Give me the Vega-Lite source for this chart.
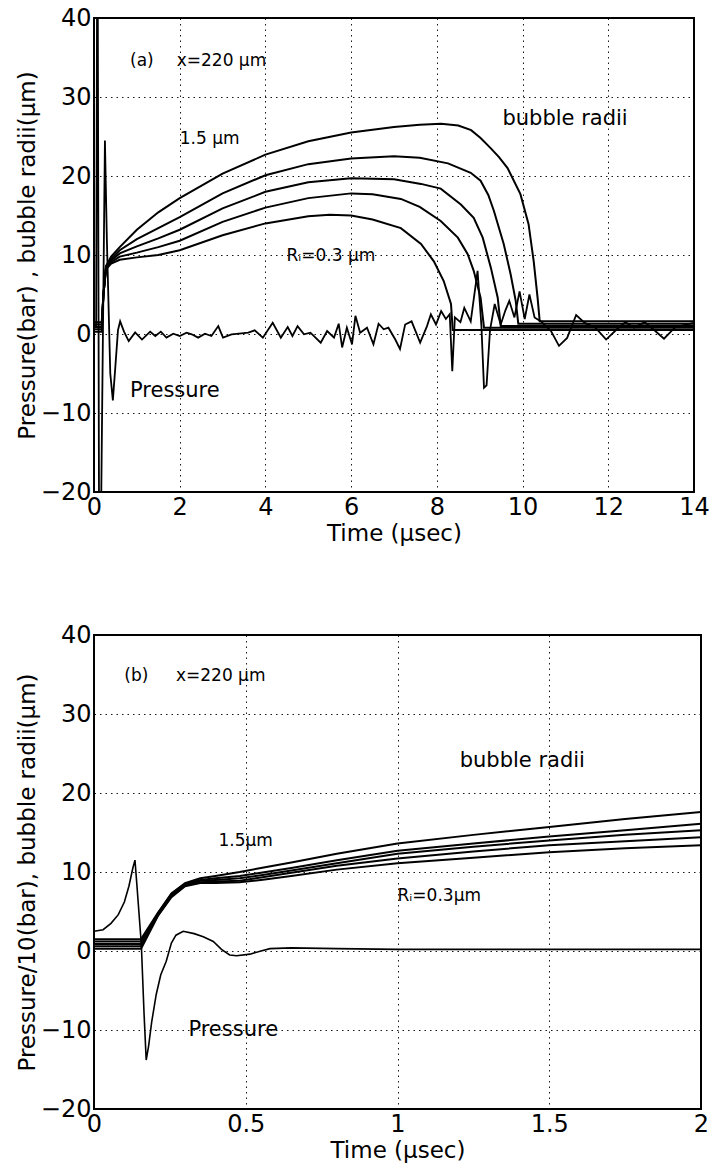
{
  "$schema": "https://vega.github.io/schema/vega-lite/v6.json",
  "background": "white",
  "padding": {"left": 15, "top": 5, "right": 0, "bottom": 0},
  "config": {
    "font": "DejaVu Sans",
    "view": {"stroke": "black", "strokeWidth": 2},
    "concat": {"spacing": 76},
    "axis": {
      "grid": true,
      "gridColor": "black",
      "gridDash": [1.5, 4],
      "gridWidth": 1,
      "gridOpacity": 0.9,
      "ticks": false,
      "domain": false,
      "labelFontSize": 24,
      "labelColor": "black",
      "labelFont": "DejaVu Sans",
      "labelPadding": 3,
      "labelFlush": false,
      "labelOverlap": false,
      "titleFontSize": 23,
      "titleFontWeight": "normal",
      "titleColor": "black",
      "titleFont": "DejaVu Sans",
      "titlePadding": 3
    }
  },
  "datasets": {
    "bubA": [
      {"r": "1.5", "t": 0, "v": 1.5}, {"r": "1.5", "t": 0.18, "v": 1.5}, {"r": "1.5", "t": 0.22, "v": 5.0}, {"r": "1.5", "t": 0.28, "v": 8.6}, {"r": "1.5", "t": 0.4, "v": 9.8}, {"r": "1.5", "t": 0.6, "v": 11.0}, {"r": "1.5", "t": 1.0, "v": 13.2}, {"r": "1.5", "t": 1.5, "v": 15.4}, {"r": "1.5", "t": 2.0, "v": 17.2}, {"r": "1.5", "t": 3.0, "v": 20.3}, {"r": "1.5", "t": 4.0, "v": 22.7}, {"r": "1.5", "t": 5.0, "v": 24.4}, {"r": "1.5", "t": 6.0, "v": 25.5}, {"r": "1.5", "t": 7.0, "v": 26.2}, {"r": "1.5", "t": 7.6, "v": 26.5}, {"r": "1.5", "t": 8.1, "v": 26.6}, {"r": "1.5", "t": 8.5, "v": 26.4}, {"r": "1.5", "t": 8.8, "v": 25.8}, {"r": "1.5", "t": 9.02, "v": 24.8}, {"r": "1.5", "t": 9.26, "v": 23.5}, {"r": "1.5", "t": 9.45, "v": 22.4}, {"r": "1.5", "t": 9.65, "v": 21.0}, {"r": "1.5", "t": 9.95, "v": 17.7}, {"r": "1.5", "t": 10.14, "v": 13.9}, {"r": "1.5", "t": 10.26, "v": 9.2}, {"r": "1.5", "t": 10.35, "v": 4.6}, {"r": "1.5", "t": 10.4, "v": 1.6}, {"r": "1.5", "t": 14.0, "v": 1.6},
      {"r": "1.2", "t": 0, "v": 1.2}, {"r": "1.2", "t": 0.18, "v": 1.2}, {"r": "1.2", "t": 0.22, "v": 5.0}, {"r": "1.2", "t": 0.28, "v": 8.5}, {"r": "1.2", "t": 0.4, "v": 9.5}, {"r": "1.2", "t": 0.6, "v": 10.6}, {"r": "1.2", "t": 1.0, "v": 12.0}, {"r": "1.2", "t": 1.5, "v": 13.4}, {"r": "1.2", "t": 2.0, "v": 14.8}, {"r": "1.2", "t": 3.0, "v": 17.8}, {"r": "1.2", "t": 4.0, "v": 20.1}, {"r": "1.2", "t": 5.0, "v": 21.5}, {"r": "1.2", "t": 6.0, "v": 22.2}, {"r": "1.2", "t": 7.0, "v": 22.5}, {"r": "1.2", "t": 7.6, "v": 22.3}, {"r": "1.2", "t": 8.26, "v": 21.6}, {"r": "1.2", "t": 8.79, "v": 20.4}, {"r": "1.2", "t": 9.02, "v": 19.4}, {"r": "1.2", "t": 9.2, "v": 17.6}, {"r": "1.2", "t": 9.33, "v": 15.6}, {"r": "1.2", "t": 9.56, "v": 11.4}, {"r": "1.2", "t": 9.72, "v": 7.6}, {"r": "1.2", "t": 9.84, "v": 4.2}, {"r": "1.2", "t": 9.9, "v": 1.3}, {"r": "1.2", "t": 14.0, "v": 1.3},
      {"r": "0.9", "t": 0, "v": 0.9}, {"r": "0.9", "t": 0.18, "v": 0.9}, {"r": "0.9", "t": 0.22, "v": 5.0}, {"r": "0.9", "t": 0.28, "v": 8.4}, {"r": "0.9", "t": 0.4, "v": 9.3}, {"r": "0.9", "t": 0.6, "v": 10.2}, {"r": "0.9", "t": 1.0, "v": 11.1}, {"r": "0.9", "t": 1.5, "v": 12.1}, {"r": "0.9", "t": 2.0, "v": 13.2}, {"r": "0.9", "t": 3.0, "v": 15.9}, {"r": "0.9", "t": 4.0, "v": 18.0}, {"r": "0.9", "t": 5.0, "v": 19.2}, {"r": "0.9", "t": 6.0, "v": 19.7}, {"r": "0.9", "t": 7.0, "v": 19.6}, {"r": "0.9", "t": 7.63, "v": 19.0}, {"r": "0.9", "t": 8.09, "v": 18.4}, {"r": "0.9", "t": 8.56, "v": 16.4}, {"r": "0.9", "t": 8.86, "v": 14.7}, {"r": "0.9", "t": 9.07, "v": 12.2}, {"r": "0.9", "t": 9.26, "v": 8.4}, {"r": "0.9", "t": 9.42, "v": 4.6}, {"r": "0.9", "t": 9.49, "v": 1.0}, {"r": "0.9", "t": 14.0, "v": 1.0},
      {"r": "0.6", "t": 0, "v": 0.6}, {"r": "0.6", "t": 0.18, "v": 0.6}, {"r": "0.6", "t": 0.22, "v": 5.0}, {"r": "0.6", "t": 0.28, "v": 8.3}, {"r": "0.6", "t": 0.4, "v": 9.1}, {"r": "0.6", "t": 0.6, "v": 9.8}, {"r": "0.6", "t": 1.0, "v": 10.3}, {"r": "0.6", "t": 1.5, "v": 11.0}, {"r": "0.6", "t": 2.0, "v": 11.8}, {"r": "0.6", "t": 3.0, "v": 14.2}, {"r": "0.6", "t": 4.0, "v": 16.0}, {"r": "0.6", "t": 5.0, "v": 17.2}, {"r": "0.6", "t": 6.0, "v": 17.8}, {"r": "0.6", "t": 6.5, "v": 17.7}, {"r": "0.6", "t": 7.16, "v": 17.1}, {"r": "0.6", "t": 7.6, "v": 16.1}, {"r": "0.6", "t": 8.09, "v": 14.3}, {"r": "0.6", "t": 8.49, "v": 12.2}, {"r": "0.6", "t": 8.72, "v": 10.1}, {"r": "0.6", "t": 8.86, "v": 8.0}, {"r": "0.6", "t": 9.02, "v": 4.6}, {"r": "0.6", "t": 9.1, "v": 0.8}, {"r": "0.6", "t": 14.0, "v": 0.8},
      {"r": "0.3", "t": 0, "v": 0.3}, {"r": "0.3", "t": 0.18, "v": 0.3}, {"r": "0.3", "t": 0.22, "v": 5.0}, {"r": "0.3", "t": 0.28, "v": 8.2}, {"r": "0.3", "t": 0.4, "v": 8.9}, {"r": "0.3", "t": 0.6, "v": 9.4}, {"r": "0.3", "t": 1.0, "v": 9.7}, {"r": "0.3", "t": 1.5, "v": 10.0}, {"r": "0.3", "t": 2.0, "v": 10.6}, {"r": "0.3", "t": 3.0, "v": 12.5}, {"r": "0.3", "t": 4.0, "v": 14.0}, {"r": "0.3", "t": 5.0, "v": 14.9}, {"r": "0.3", "t": 5.5, "v": 15.1}, {"r": "0.3", "t": 6.0, "v": 15.0}, {"r": "0.3", "t": 6.5, "v": 14.5}, {"r": "0.3", "t": 7.16, "v": 13.4}, {"r": "0.3", "t": 7.63, "v": 11.4}, {"r": "0.3", "t": 7.93, "v": 9.2}, {"r": "0.3", "t": 8.16, "v": 6.7}, {"r": "0.3", "t": 8.33, "v": 3.8}, {"r": "0.3", "t": 8.37, "v": 0.5}, {"r": "0.3", "t": 14.0, "v": 0.5}
    ],
    "presA": [
      {"t": 0, "v": 1}, {"t": 0.05, "v": 1}, {"t": 0.08, "v": 60}, {"t": 0.125, "v": -40}, {"t": 0.17, "v": -20}, {"t": 0.255, "v": 24.5}, {"t": 0.3, "v": 12}, {"t": 0.38, "v": -5}, {"t": 0.44, "v": -8.4}, {"t": 0.5, "v": -4}, {"t": 0.56, "v": 0.5}, {"t": 0.61, "v": 1.6}, {"t": 0.7, "v": 0.3}, {"t": 0.81, "v": -0.9}, {"t": 0.96, "v": 0.2}, {"t": 1.12, "v": -0.7}, {"t": 1.31, "v": 0.3}, {"t": 1.43, "v": -0.25}, {"t": 1.56, "v": 0.3}, {"t": 1.69, "v": -0.46}, {"t": 1.85, "v": 0.04}, {"t": 2.0, "v": -0.25}, {"t": 2.16, "v": 0.17}, {"t": 2.28, "v": -0.04}, {"t": 2.43, "v": -0.46}, {"t": 2.59, "v": 0.04}, {"t": 2.74, "v": -0.25}, {"t": 2.9, "v": 1.0}, {"t": 3.01, "v": -0.46}, {"t": 3.21, "v": -0.04}, {"t": 3.44, "v": 0.08}, {"t": 3.6, "v": 0.17}, {"t": 3.75, "v": 0.46}, {"t": 3.94, "v": -0.46}, {"t": 4.17, "v": 1.43}, {"t": 4.36, "v": -0.46}, {"t": 4.52, "v": 0.89}, {"t": 4.63, "v": -0.25}, {"t": 4.75, "v": 1.0}, {"t": 4.9, "v": -0.04}, {"t": 5.05, "v": 0.17}, {"t": 5.29, "v": -1.1}, {"t": 5.44, "v": 0.38}, {"t": 5.6, "v": -0.46}, {"t": 5.71, "v": 1.3}, {"t": 5.79, "v": -1.7}, {"t": 5.9, "v": 0.8}, {"t": 6.02, "v": -1.3}, {"t": 6.1, "v": 2.3}, {"t": 6.21, "v": 0.17}, {"t": 6.37, "v": 0.8}, {"t": 6.52, "v": -1.3}, {"t": 6.64, "v": 1.3}, {"t": 6.76, "v": 0.6}, {"t": 6.87, "v": 0.8}, {"t": 7.03, "v": -0.7}, {"t": 7.14, "v": -1.9}, {"t": 7.26, "v": 1.2}, {"t": 7.41, "v": 1.6}, {"t": 7.61, "v": -1.1}, {"t": 7.77, "v": 1.0}, {"t": 7.86, "v": 2.5}, {"t": 7.98, "v": 1.2}, {"t": 8.1, "v": 2.9}, {"t": 8.21, "v": 1.9}, {"t": 8.3, "v": 2.5}, {"t": 8.36, "v": -4.7}, {"t": 8.42, "v": 2.1}, {"t": 8.55, "v": 1.5}, {"t": 8.64, "v": 3.3}, {"t": 8.79, "v": 1.6}, {"t": 8.95, "v": 8.0}, {"t": 9.04, "v": 1.0}, {"t": 9.1, "v": -6.8}, {"t": 9.16, "v": -6.5}, {"t": 9.24, "v": 0.5}, {"t": 9.35, "v": 3.8}, {"t": 9.49, "v": 1.2}, {"t": 9.6, "v": 3.0}, {"t": 9.69, "v": 4.2}, {"t": 9.81, "v": 2.1}, {"t": 9.93, "v": 5.4}, {"t": 10.05, "v": 1.9}, {"t": 10.16, "v": 5.0}, {"t": 10.28, "v": 2.1}, {"t": 10.43, "v": 1.6}, {"t": 10.66, "v": 0.4}, {"t": 10.85, "v": -1.5}, {"t": 11.04, "v": -0.5}, {"t": 11.25, "v": 2.4}, {"t": 11.45, "v": 1.4}, {"t": 11.7, "v": 0.8}, {"t": 11.95, "v": -0.7}, {"t": 12.2, "v": 0.6}, {"t": 12.4, "v": 1.5}, {"t": 12.6, "v": 0.8}, {"t": 12.85, "v": 1.5}, {"t": 13.05, "v": 0.6}, {"t": 13.3, "v": -0.6}, {"t": 13.55, "v": 0.8}, {"t": 13.8, "v": 1.2}, {"t": 14.0, "v": 1.4}
    ],
    "bubB": [
      {"r": "1.5", "t": 0, "v": 1.5}, {"r": "1.5", "t": 0.155, "v": 1.5}, {"r": "1.5", "t": 0.21, "v": 4.8}, {"r": "1.5", "t": 0.255, "v": 7.3}, {"r": "1.5", "t": 0.3, "v": 8.6}, {"r": "1.5", "t": 0.35, "v": 9.2}, {"r": "1.5", "t": 0.4, "v": 9.5}, {"r": "1.5", "t": 0.48, "v": 10.0}, {"r": "1.5", "t": 0.55, "v": 10.5}, {"r": "1.5", "t": 0.65, "v": 11.2}, {"r": "1.5", "t": 0.8, "v": 12.3}, {"r": "1.5", "t": 1.0, "v": 13.6}, {"r": "1.5", "t": 1.25, "v": 14.7}, {"r": "1.5", "t": 1.5, "v": 15.7}, {"r": "1.5", "t": 1.75, "v": 16.7}, {"r": "1.5", "t": 2.0, "v": 17.6},
      {"r": "1.2", "t": 0, "v": 1.2}, {"r": "1.2", "t": 0.155, "v": 1.2}, {"r": "1.2", "t": 0.21, "v": 4.7}, {"r": "1.2", "t": 0.255, "v": 7.2}, {"r": "1.2", "t": 0.3, "v": 8.5}, {"r": "1.2", "t": 0.35, "v": 9.0}, {"r": "1.2", "t": 0.4, "v": 9.2}, {"r": "1.2", "t": 0.48, "v": 9.5}, {"r": "1.2", "t": 0.55, "v": 9.9}, {"r": "1.2", "t": 0.65, "v": 10.5}, {"r": "1.2", "t": 0.8, "v": 11.5}, {"r": "1.2", "t": 1.0, "v": 12.7}, {"r": "1.2", "t": 1.25, "v": 13.6}, {"r": "1.2", "t": 1.5, "v": 14.5}, {"r": "1.2", "t": 1.75, "v": 15.3}, {"r": "1.2", "t": 2.0, "v": 16.1},
      {"r": "0.9", "t": 0, "v": 0.9}, {"r": "0.9", "t": 0.155, "v": 0.9}, {"r": "0.9", "t": 0.21, "v": 4.6}, {"r": "0.9", "t": 0.255, "v": 7.0}, {"r": "0.9", "t": 0.3, "v": 8.4}, {"r": "0.9", "t": 0.35, "v": 8.9}, {"r": "0.9", "t": 0.4, "v": 9.0}, {"r": "0.9", "t": 0.48, "v": 9.2}, {"r": "0.9", "t": 0.55, "v": 9.6}, {"r": "0.9", "t": 0.65, "v": 10.2}, {"r": "0.9", "t": 0.8, "v": 11.1}, {"r": "0.9", "t": 1.0, "v": 12.3}, {"r": "0.9", "t": 1.25, "v": 13.2}, {"r": "0.9", "t": 1.5, "v": 14.0}, {"r": "0.9", "t": 1.75, "v": 14.7}, {"r": "0.9", "t": 2.0, "v": 15.3},
      {"r": "0.6", "t": 0, "v": 0.6}, {"r": "0.6", "t": 0.155, "v": 0.6}, {"r": "0.6", "t": 0.21, "v": 4.5}, {"r": "0.6", "t": 0.255, "v": 6.9}, {"r": "0.6", "t": 0.3, "v": 8.3}, {"r": "0.6", "t": 0.35, "v": 8.7}, {"r": "0.6", "t": 0.4, "v": 8.8}, {"r": "0.6", "t": 0.48, "v": 8.9}, {"r": "0.6", "t": 0.55, "v": 9.3}, {"r": "0.6", "t": 0.65, "v": 9.9}, {"r": "0.6", "t": 0.8, "v": 10.8}, {"r": "0.6", "t": 1.0, "v": 11.7}, {"r": "0.6", "t": 1.25, "v": 12.6}, {"r": "0.6", "t": 1.5, "v": 13.4}, {"r": "0.6", "t": 1.75, "v": 13.9}, {"r": "0.6", "t": 2.0, "v": 14.4},
      {"r": "0.3", "t": 0, "v": 0.3}, {"r": "0.3", "t": 0.155, "v": 0.3}, {"r": "0.3", "t": 0.21, "v": 4.4}, {"r": "0.3", "t": 0.255, "v": 6.8}, {"r": "0.3", "t": 0.3, "v": 8.2}, {"r": "0.3", "t": 0.35, "v": 8.6}, {"r": "0.3", "t": 0.4, "v": 8.6}, {"r": "0.3", "t": 0.48, "v": 8.7}, {"r": "0.3", "t": 0.55, "v": 9.0}, {"r": "0.3", "t": 0.65, "v": 9.5}, {"r": "0.3", "t": 0.8, "v": 10.3}, {"r": "0.3", "t": 1.0, "v": 11.1}, {"r": "0.3", "t": 1.25, "v": 11.8}, {"r": "0.3", "t": 1.5, "v": 12.5}, {"r": "0.3", "t": 1.75, "v": 13.0}, {"r": "0.3", "t": 2.0, "v": 13.4}
    ],
    "presB": [
      {"t": 0, "v": 2.5}, {"t": 0.03, "v": 2.7}, {"t": 0.056, "v": 3.5}, {"t": 0.08, "v": 4.6}, {"t": 0.1, "v": 6.2}, {"t": 0.115, "v": 8.2}, {"t": 0.128, "v": 10.5}, {"t": 0.135, "v": 11.5}, {"t": 0.142, "v": 8}, {"t": 0.156, "v": 0.8}, {"t": 0.165, "v": -8}, {"t": 0.172, "v": -13.8}, {"t": 0.18, "v": -12}, {"t": 0.19, "v": -9}, {"t": 0.205, "v": -5.5}, {"t": 0.22, "v": -3}, {"t": 0.238, "v": -1.3}, {"t": 0.255, "v": 1.0}, {"t": 0.27, "v": 2.0}, {"t": 0.294, "v": 2.5}, {"t": 0.33, "v": 2.2}, {"t": 0.36, "v": 1.8}, {"t": 0.393, "v": 1.2}, {"t": 0.42, "v": 0.2}, {"t": 0.447, "v": -0.5}, {"t": 0.47, "v": -0.6}, {"t": 0.514, "v": -0.4}, {"t": 0.55, "v": 0}, {"t": 0.58, "v": 0.3}, {"t": 0.65, "v": 0.4}, {"t": 0.8, "v": 0.3}, {"t": 1.0, "v": 0.2}, {"t": 1.5, "v": 0.2}, {"t": 2.0, "v": 0.2}
    ],
    "txtA_small": [
      {"t": 0.84, "v": 34.6, "s": "(a)"},
      {"t": 1.93, "v": 34.6, "s": "x=220 μm"},
      {"t": 2.0, "v": 24.7, "s": "1.5 μm"},
      {"t": 4.49, "v": 9.9, "s": "Rᵢ=0.3 μm"}
    ],
    "txtA_large": [
      {"t": 9.53, "v": 27.2, "s": "bubble radii"},
      {"t": 0.84, "v": -7.2, "s": "Pressure"}
    ],
    "txtB_small": [
      {"t": 0.1, "v": 34.8, "s": "(b)"},
      {"t": 0.27, "v": 34.8, "s": "x=220 μm"},
      {"t": 0.41, "v": 13.9, "s": "1.5μm"},
      {"t": 1.0, "v": 7.0, "s": "Rᵢ=0.3μm"}
    ],
    "txtB_large": [
      {"t": 1.205, "v": 24.0, "s": "bubble radii"},
      {"t": 0.311, "v": -10.0, "s": "Pressure"}
    ]
  },
  "vconcat": [
    {
      "width": 600,
      "height": 474,
      "encoding": {
        "x": {"field": "t", "type": "quantitative", "title": "Time (μsec)", "scale": {"domain": [0, 14], "nice": false, "zero": false}, "axis": {"values": [0, 2, 4, 6, 8, 10, 12, 14], "format": "~r"}},
        "y": {"field": "v", "type": "quantitative", "title": "Pressure(bar) , bubble radii(μm)", "scale": {"domain": [-20, 40], "nice": false, "zero": false}, "axis": {"values": [-20, -10, 0, 10, 20, 30, 40], "format": "~r", "titlePadding": 1}}
      },
      "layer": [
        {"data": {"name": "bubA"}, "mark": {"type": "line", "color": "black", "strokeWidth": 2, "clip": true}, "encoding": {"detail": {"field": "r", "type": "nominal"}}},
        {"data": {"name": "presA"}, "mark": {"type": "line", "color": "black", "strokeWidth": 1.8, "clip": true}, "encoding": {}},
        {"data": {"name": "txtA_small"}, "mark": {"type": "text", "align": "left", "baseline": "middle", "fontSize": 17, "color": "black"}, "encoding": {"text": {"field": "s"}}},
        {"data": {"name": "txtA_large"}, "mark": {"type": "text", "align": "left", "baseline": "middle", "fontSize": 21, "color": "black"}, "encoding": {"text": {"field": "s"}}}
      ]
    },
    {
      "width": 607,
      "height": 474,
      "encoding": {
        "x": {"field": "t", "type": "quantitative", "title": "Time (μsec)", "scale": {"domain": [0, 2], "nice": false, "zero": false}, "axis": {"values": [0, 0.5, 1, 1.5, 2], "format": "~r"}},
        "y": {"field": "v", "type": "quantitative", "title": "Pressure/10(bar), bubble radii(μm)", "scale": {"domain": [-20, 40], "nice": false, "zero": false}, "axis": {"values": [-20, -10, 0, 10, 20, 30, 40], "format": "~r", "titlePadding": 1}}
      },
      "layer": [
        {"data": {"name": "bubB"}, "mark": {"type": "line", "color": "black", "strokeWidth": 2, "clip": true}, "encoding": {"detail": {"field": "r", "type": "nominal"}}},
        {"data": {"name": "presB"}, "mark": {"type": "line", "color": "black", "strokeWidth": 1.6, "clip": true}, "encoding": {}},
        {"data": {"name": "txtB_small"}, "mark": {"type": "text", "align": "left", "baseline": "middle", "fontSize": 17, "color": "black"}, "encoding": {"text": {"field": "s"}}},
        {"data": {"name": "txtB_large"}, "mark": {"type": "text", "align": "left", "baseline": "middle", "fontSize": 21, "color": "black"}, "encoding": {"text": {"field": "s"}}}
      ]
    }
  ]
}
